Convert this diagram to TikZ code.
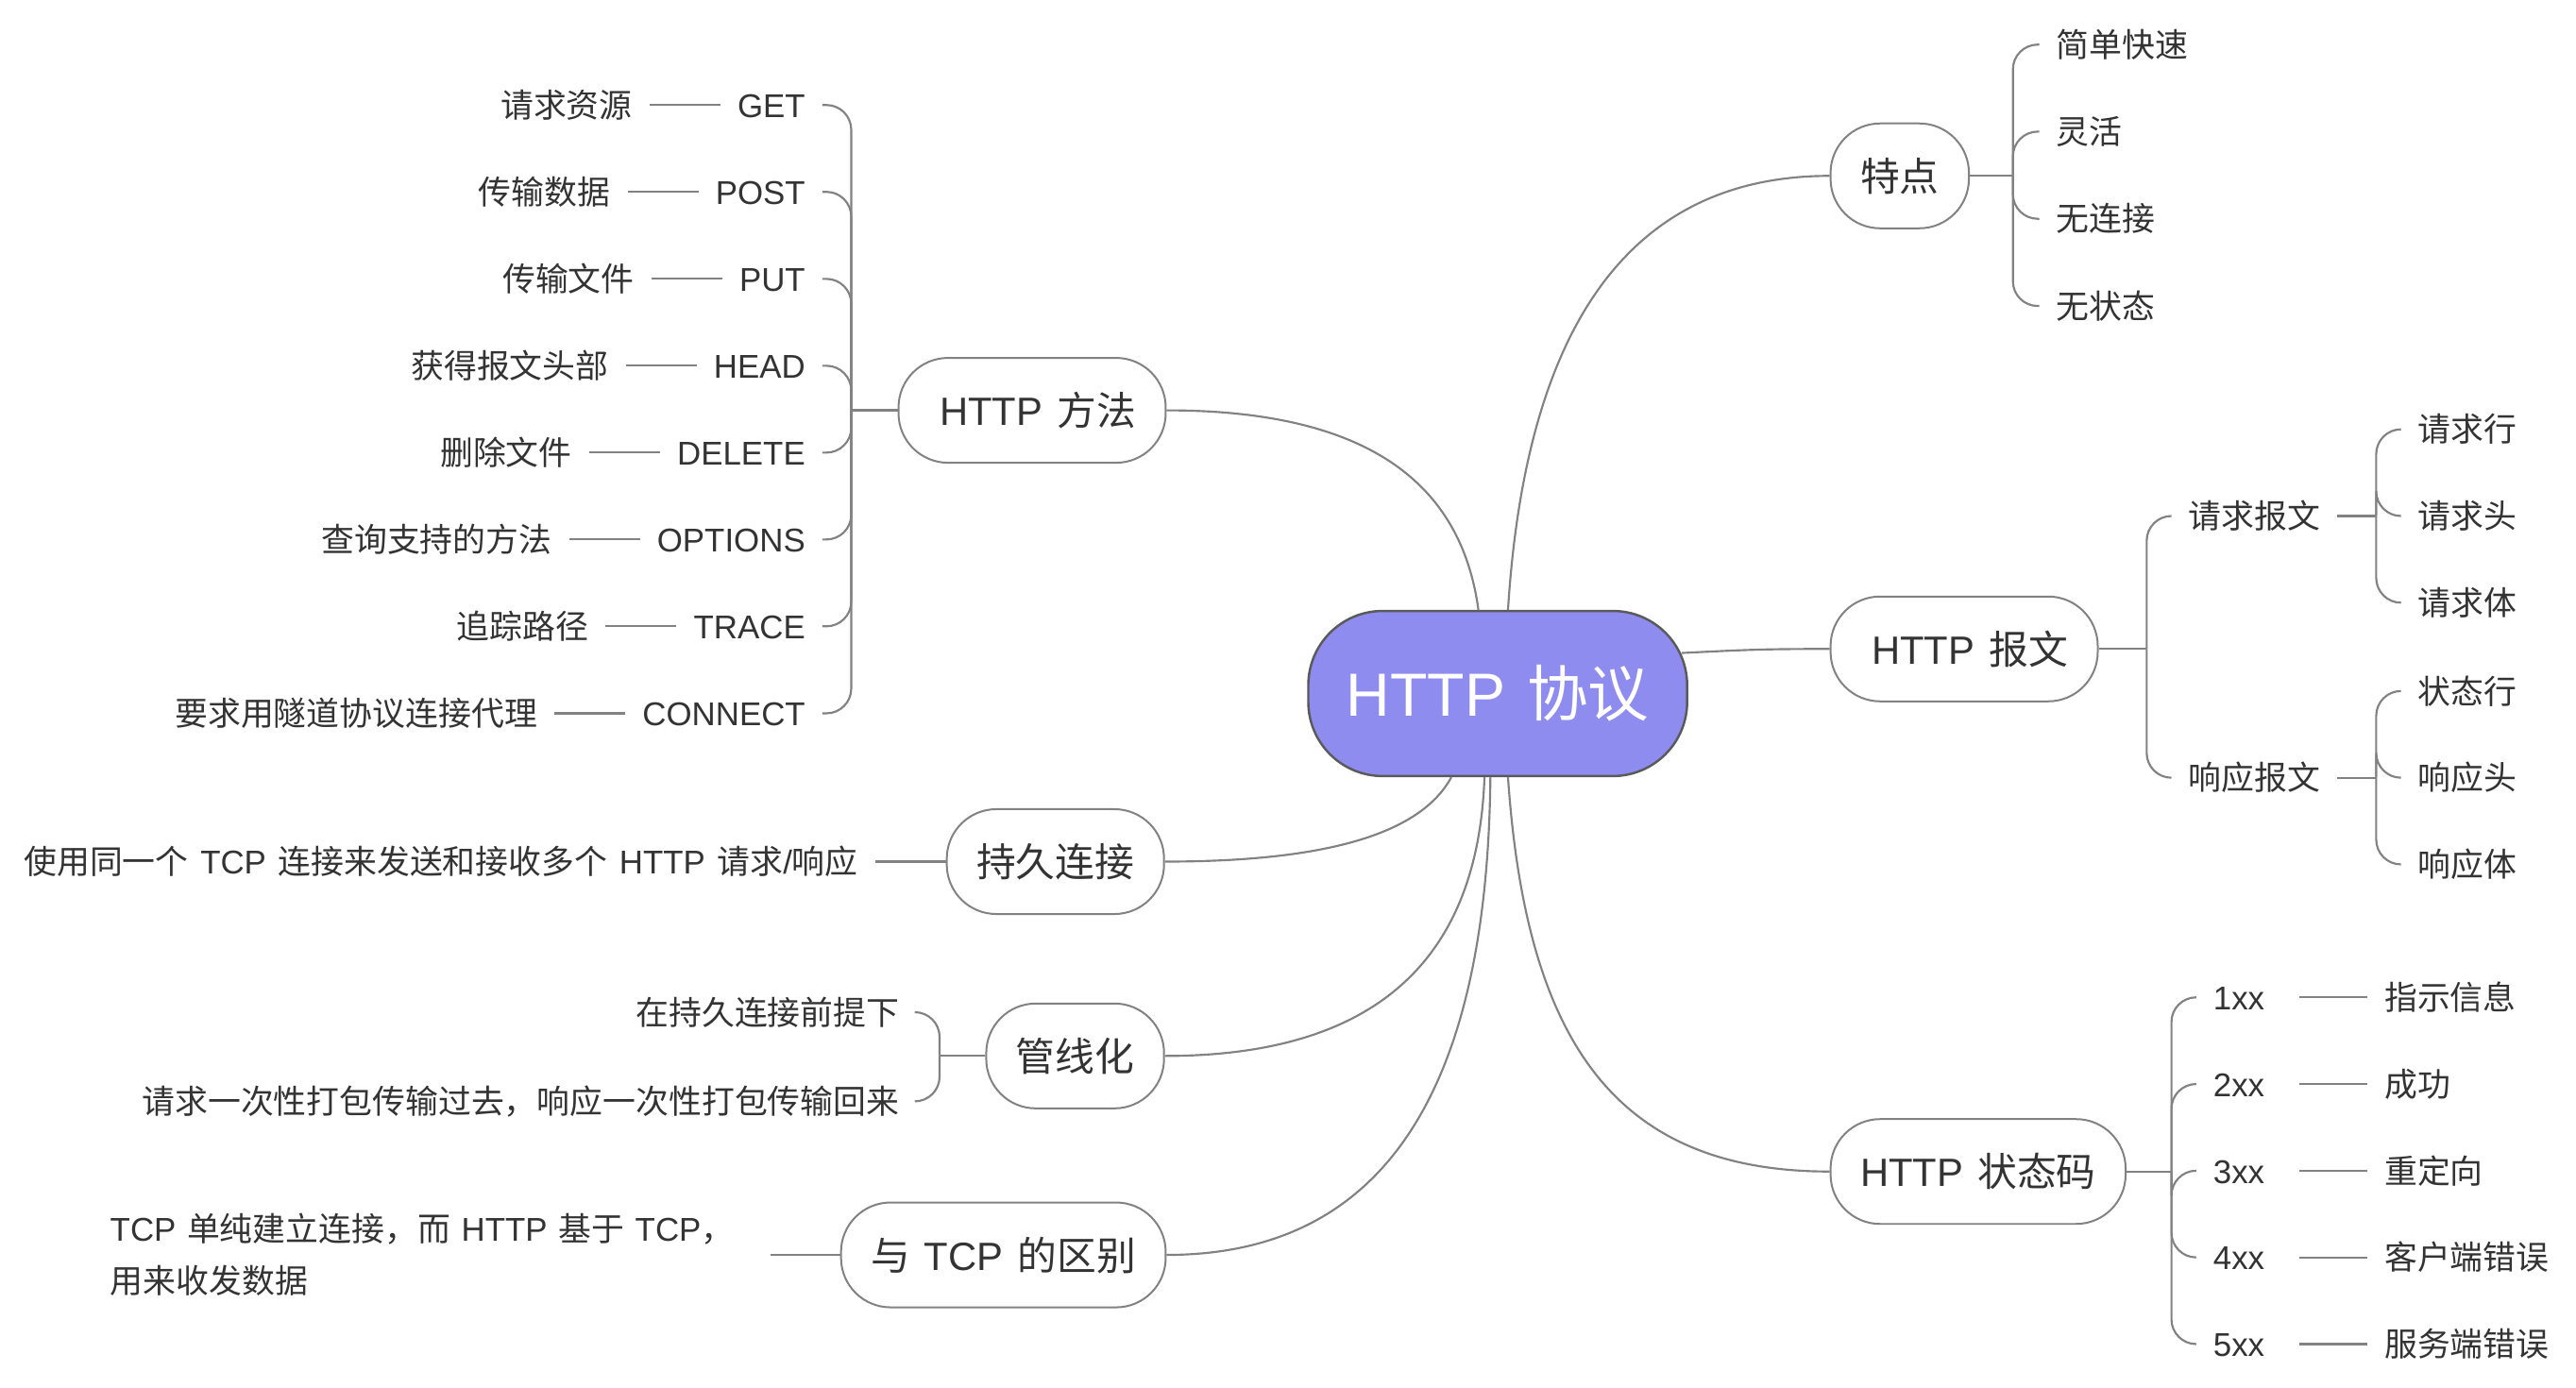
\documentclass[tikz,border=0pt]{standalone}
\usepackage{fontspec}
\setmainfont{Liberation Sans}[WordSpace=1.3]
\newfontfamily\zhfont{Noto Sans CJK SC}
\newcommand\zh[1]{{\zhfont #1}}
\usetikzlibrary{calc,positioning}
\definecolor{inkgray}{HTML}{333333}
\definecolor{wiregray}{HTML}{828282}
\definecolor{hubfill}{HTML}{8F8CF0}
\definecolor{hubline}{HTML}{5A5A5A}

\begin{document}
\begin{tikzpicture}[x=0.02cm, y=-0.02cm,
	hub/.style={draw=hubline, line width=0.8pt, fill=hubfill, text=white, rounded corners=0.9cm, minimum height=2cm, inner xsep=0.46cm, font=\fontsize{21}{25}\selectfont, text height=17.2pt, text depth=1.3pt},
	topic/.style={draw=wiregray, line width=0.65pt, fill=white, text=inkgray, rounded corners=0.6cm, minimum height=1.27cm, inner xsep=0.36cm, font=\fontsize{13.6}{16}\selectfont, text height=11.2pt, text depth=0.8pt},
	leaf/.style={text=inkgray, inner xsep=0.2cm, inner ysep=1pt, font=\fontsize{11.35}{14}\selectfont, text height=9.3pt, text depth=0.7pt},
	code/.style={leaf, text width=0.84cm, align=left},
	note/.style={text=inkgray, inner xsep=0.2cm, inner ysep=1pt, text width=7.79cm, align=left, font=\fontsize{11.35}{17.9}\selectfont},
	wire/.style={draw=wiregray, line width=0.7pt},
	brace/.style={wire, rounded corners=0.3cm}]
			%%%%% START %%%%%
			
			\useasboundingbox[fill=white] (0, 0) rectangle (1560, 840.6);
			
			\node[hub] (ctr) at (907, 420) {HTTP \zh{协议}};
			
			\node[topic, anchor=west] (tedian) at (1108, 106.5) {\zh{特点}};
			\node[topic, anchor=west] (baowen) at (1108, 393) {\hspace*{0.14cm}HTTP \zh{报文}};
			\node[topic, anchor=west] (zhuangtai) at (1108, 709.5) {HTTP \zh{状态码}};
			\node[topic, anchor=east] (fangfa) at (706.5, 248.5) {\hspace*{0.14cm}HTTP \zh{方法}};
			\node[topic, anchor=east] (chijiu) at (705.5, 521.8) {\zh{持久连接}};
			\node[topic, anchor=east] (guanxian) at (705.5, 639.5) {\zh{管线化}};
			\node[topic, anchor=east] (qubie) at (706.5, 760) {\zh{与} TCP \zh{的区别}};
			
			\draw[wire] (ctr.83) .. controls +(11, -175) and +(-119, 0) .. (tedian.west);
			\draw[wire] ($(ctr.12)+(-4, 0)$) .. controls +(40, -2) and +(-40, 0) .. (baowen.west);
			\draw[wire] (ctr.277) .. controls +(11, 160) and +(-130, 0) .. (zhuangtai.west);
			\draw[wire] (ctr.103) .. controls +(-11, -81) and +(116, 0) .. (fangfa.east);
			\draw[wire] (ctr.241) .. controls +(-19, 35) and +(96, 0) .. (chijiu.east);
			\draw[wire] (ctr.261) .. controls +(-4, 113) and +(125, 0) .. (guanxian.east);
			\draw[wire] (ctr.265) .. controls +(-2, 194) and +(129, 0) .. (qubie.east);
			
			% features
			\coordinate (tedianj) at (1219, 106.5);
			\node[leaf, anchor=west] (jiandan) at (1235, 27) {\zh{简单快速}};
			\node[leaf, anchor=west] (linghuo) at (1235, 79.7) {\zh{灵活}};
			\node[leaf, anchor=west] (wulianjie) at (1235, 132.5) {\zh{无连接}};
			\node[leaf, anchor=west] (wuzhuangtai) at (1235, 185.3) {\zh{无状态}};
			\draw[wire] (tedian.east) -- (tedianj);
			\draw[brace] (tedianj) |- (jiandan.west);
			\draw[brace] (tedianj) |- (linghuo.west);
			\draw[brace] (tedianj) |- (wulianjie.west);
			\draw[brace] (tedianj) |- (wuzhuangtai.west);
			
			% messages
			\coordinate (baowenj) at (1300, 393);
			\node[leaf, anchor=west] (qingqiu) at (1315, 312.5) {\zh{请求报文}};
			\node[leaf, anchor=west] (xiangying) at (1315, 471) {\zh{响应报文}};
			\draw[wire] (baowen.east) -- (baowenj);
			\draw[brace] (baowenj) |- (qingqiu.west);
			\draw[brace] (baowenj) |- (xiangying.west);
			
			\coordinate (qingqiuj) at (1439, 312.5);
			\node[leaf, anchor=west] (qqhang) at (1454, 260) {\zh{请求行}};
			\node[leaf, anchor=west] (qqtou) at (1454, 312.5) {\zh{请求头}};
			\node[leaf, anchor=west] (qqti) at (1454, 365) {\zh{请求体}};
			\draw[wire] (qingqiu.east) -- (qingqiuj);
			\draw[brace] (qingqiuj) |- (qqhang.west);
			\draw[brace] (qingqiuj) |- (qqtou.west);
			\draw[brace] (qingqiuj) |- (qqti.west);
			
			\coordinate (xiangyingj) at (1439, 471);
			\node[leaf, anchor=west] (xyhang) at (1454, 418.5) {\zh{状态行}};
			\node[leaf, anchor=west] (xytou) at (1454, 471) {\zh{响应头}};
			\node[leaf, anchor=west] (xyti) at (1454, 523.5) {\zh{响应体}};
			\draw[wire] (xiangying.east) -- (xiangyingj);
			\draw[brace] (xiangyingj) |- (xyhang.west);
			\draw[brace] (xiangyingj) |- (xytou.west);
			\draw[brace] (xiangyingj) |- (xyti.west);
			
			% status codes
			\coordinate (zhuangtaij) at (1315, 709.5);
			\node[code, anchor=west] (onexx) at (1330, 604) {1xx};
			\node[code, anchor=west] (twoxx) at (1330, 656.5) {2xx};
			\node[code, anchor=west] (threexx) at (1330, 709) {3xx};
			\node[code, anchor=west] (fourxx) at (1330, 761.5) {4xx};
			\node[code, anchor=west] (fivexx) at (1330, 814) {5xx};
			\draw[wire] (zhuangtai.east) -- (zhuangtaij);
			\draw[brace] (zhuangtaij) |- (onexx.west);
			\draw[brace] (zhuangtaij) |- (twoxx.west);
			\draw[brace] (zhuangtaij) |- (threexx.west);
			\draw[brace] (zhuangtaij) |- (fourxx.west);
			\draw[brace] (zhuangtaij) |- (fivexx.west);
			
			\node[leaf, right=0.82cm of onexx] (oneinfo) {\zh{指示信息}};
			\node[leaf, right=0.82cm of twoxx] (twoinfo) {\zh{成功}};
			\node[leaf, right=0.82cm of threexx] (threeinfo) {\zh{重定向}};
			\node[leaf, right=0.82cm of fourxx] (fourinfo) {\zh{客户端错误}};
			\node[leaf, right=0.82cm of fivexx] (fiveinfo) {\zh{服务端错误}};
			\draw[wire] (onexx.east) -- (oneinfo.west);
			\draw[wire] (twoxx.east) -- (twoinfo.west);
			\draw[wire] (threexx.east) -- (threeinfo.west);
			\draw[wire] (fourxx.east) -- (fourinfo.west);
			\draw[wire] (fivexx.east) -- (fiveinfo.west);
			
			% methods
			\coordinate (fangfaj) at (515.5, 248.5);
			\node[leaf, anchor=east] (get) at (498, 63.6) {GET};
			\node[leaf, anchor=east] (post) at (498, 116.2) {POST};
			\node[leaf, anchor=east] (put) at (498, 168.9) {PUT};
			\node[leaf, anchor=east] (head) at (498, 221.5) {HEAD};
			\node[leaf, anchor=east] (delete) at (498, 274.1) {DELETE};
			\node[leaf, anchor=east] (options) at (498, 326.7) {OPTIONS};
			\node[leaf, anchor=east] (trace) at (498, 379.3) {TRACE};
			\node[leaf, anchor=east] (connect) at (498, 432) {CONNECT};
			\draw[wire] (fangfa.west) -- (fangfaj);
			\draw[brace] (fangfaj) |- (get.east);
			\draw[brace] (fangfaj) |- (post.east);
			\draw[brace] (fangfaj) |- (put.east);
			\draw[brace] (fangfaj) |- (head.east);
			\draw[brace] (fangfaj) |- (delete.east);
			\draw[brace] (fangfaj) |- (options.east);
			\draw[brace] (fangfaj) |- (trace.east);
			\draw[brace] (fangfaj) |- (connect.east);
			
			\node[leaf, left=0.86cm of get] (getinfo) {\zh{请求资源}};
			\node[leaf, left=0.86cm of post] (postinfo) {\zh{传输数据}};
			\node[leaf, left=0.86cm of put] (putinfo) {\zh{传输文件}};
			\node[leaf, left=0.86cm of head] (headinfo) {\zh{获得报文头部}};
			\node[leaf, left=0.86cm of delete] (deleteinfo) {\zh{删除文件}};
			\node[leaf, left=0.86cm of options] (optionsinfo) {\zh{查询支持的方法}};
			\node[leaf, left=0.86cm of trace] (traceinfo) {\zh{追踪路径}};
			\node[leaf, left=0.86cm of connect] (connectinfo) {\zh{要求用隧道协议连接代理}};
			\draw[wire] (get.west) -- (getinfo.east);
			\draw[wire] (post.west) -- (postinfo.east);
			\draw[wire] (put.west) -- (putinfo.east);
			\draw[wire] (head.west) -- (headinfo.east);
			\draw[wire] (delete.west) -- (deleteinfo.east);
			\draw[wire] (options.west) -- (optionsinfo.east);
			\draw[wire] (trace.west) -- (traceinfo.east);
			\draw[wire] (connect.west) -- (connectinfo.east);
			
			% keep-alive
			\node[leaf, anchor=east] (chijiuinfo) at (530, 521.8) {\zh{使用同一个} TCP \zh{连接来发送和接收多个} HTTP \zh{请求}/\zh{响应}};
			\draw[wire] (chijiuinfo.east) -- (chijiu.west);
			
			% pipelining
			\coordinate (guanxianj) at (569, 639.5);
			\node[leaf, anchor=east] (qianti) at (555, 613) {\zh{在持久连接前提下}};
			\node[leaf, anchor=east] (dabao) at (555, 667) {\zh{请求一次性打包传输过去，响应一次性打包传输回来}};
			\draw[wire] (guanxian.west) -- (guanxianj);
			\draw[brace] (guanxianj) |- (qianti.east);
			\draw[brace] (guanxianj) |- (dabao.east);
			
			% tcp
			\node[note, anchor=west] (qubieinfo) at (56.4, 760) {TCP \zh{单纯建立连接，而} HTTP \zh{基于} TCP\zh{，}\\\zh{用来收发数据}};
			\draw[wire] (qubieinfo.east) -- (qubie.west);
			
			%%%%% END %%%%%
\end{tikzpicture}
\end{document}
